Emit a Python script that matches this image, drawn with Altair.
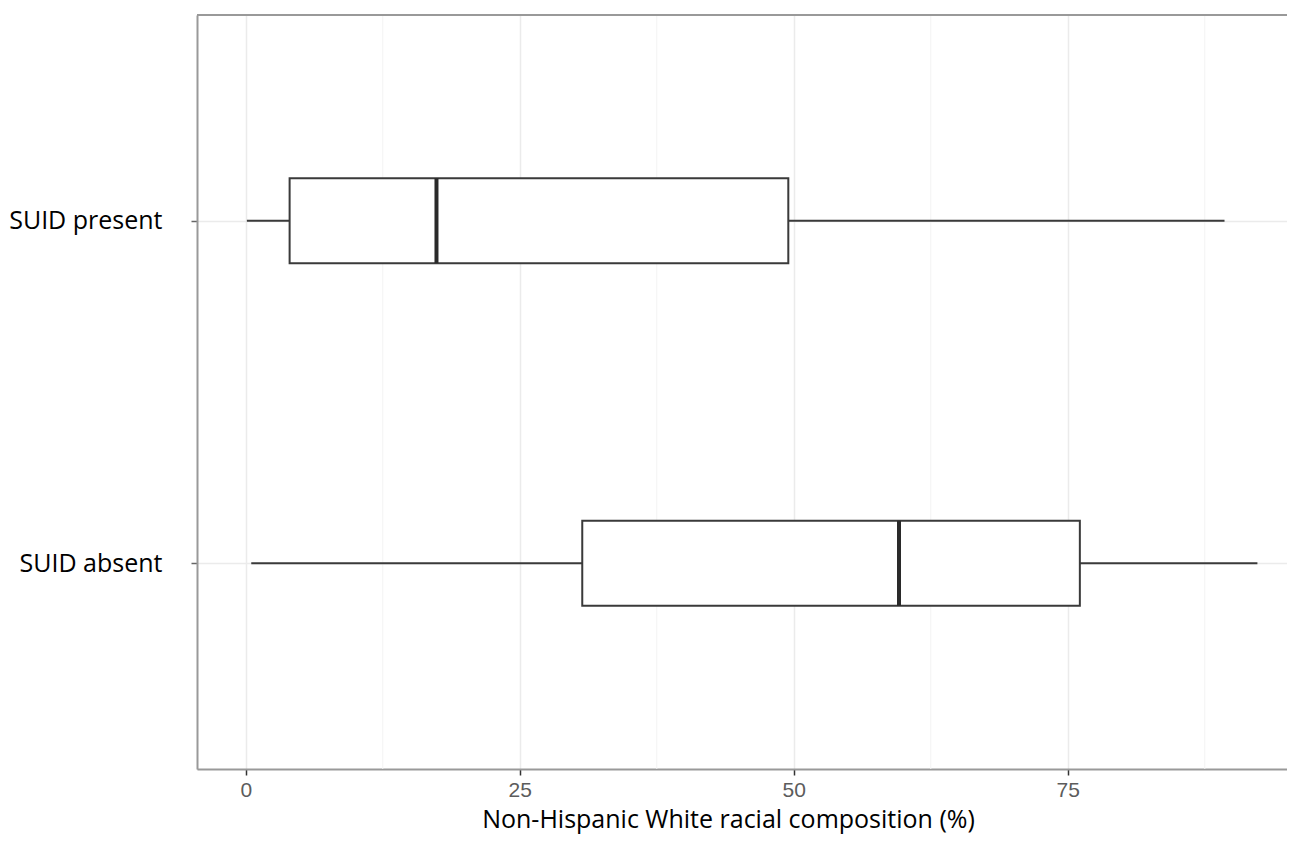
import altair as alt
import pandas as pd

groups = ["SUID present", "SUID absent"]
whisker_low = [0.1, 0.5]
q1 = [4.0, 30.7]
median = [17.4, 59.6]
q3 = [49.5, 76.1]
whisker_high = [89.3, 92.3]
major_ticks = [0, 25, 50, 75]
minor_breaks = [12.5, 37.5, 62.5, 87.5]

df = pd.DataFrame({
    "group": groups,
    "low": whisker_low,
    "q1": q1,
    "median": median,
    "q3": q3,
    "high": whisker_high,
})
minor_df = pd.DataFrame({"minor": minor_breaks})

W, H = 1090, 754
x_scale = alt.Scale(domain=[-4.45, 95.0], nice=False, zero=False)
x_axis = alt.Axis(
    title="Non-Hispanic White racial composition (%)",
    values=major_ticks,
    grid=True,
    gridColor="#ebebeb",
    gridWidth=1.5,
    domain=True,
    domainColor="#999999",
    domainWidth=2,
    ticks=True,
    tickColor="#333333",
    tickWidth=1.5,
    tickSize=6,
    labelFont="Liberation Sans",
    labelFontSize=21,
    labelColor="#5c5c5c",
    labelPadding=4,
    titleFont="Open Sans",
    titleFontSize=25,
    titleFontWeight="normal",
    titleColor="#000000",
    titleX=531,
    titleY=58,
    titleAnchor="start",
    titleAlign="center",
    titleBaseline="alphabetic",
)
y_scale = alt.Scale(type="point", padding=0.6)
y_axis = alt.Axis(
    title=None,
    grid=True,
    gridColor="#ebebeb",
    gridWidth=1.5,
    domain=True,
    domainColor="#999999",
    domainWidth=2,
    ticks=True,
    tickColor="#666666",
    tickWidth=1.5,
    tickSize=6,
    labelFont="Open Sans",
    labelFontSize=25,
    labelColor="#000000",
    labelPadding=29,
)

base = alt.Chart(df)

minor = alt.Chart(minor_df).mark_rule(color="#f3f3f3", strokeWidth=1).encode(
    x=alt.X("minor:Q", scale=x_scale, axis=x_axis)
)

whisk = base.mark_rule(color="#3a3a3a", strokeWidth=2).encode(
    x=alt.X("low:Q", scale=x_scale, axis=x_axis),
    x2="high:Q",
    y=alt.Y("group:N", sort=groups, scale=y_scale, axis=y_axis),
)

box = base.mark_bar(size=85, fill="white", stroke="#3a3a3a", strokeWidth=2).encode(
    x=alt.X("q1:Q", scale=x_scale, axis=x_axis),
    x2="q3:Q",
    y=alt.Y("group:N", sort=groups, scale=y_scale, axis=y_axis),
)

med = base.mark_tick(size=85, thickness=4, color="#2a2a2a", opacity=1).encode(
    x=alt.X("median:Q", scale=x_scale, axis=x_axis),
    y=alt.Y("group:N", sort=groups, scale=y_scale, axis=y_axis),
)

top = alt.Chart(alt.Data(values=[{"a": 1}])).mark_rule(color="#999999", strokeWidth=2).encode(
    x=alt.value(0), x2=alt.value(W), y=alt.value(0)
)

chart = alt.layer(minor, whisk, box, med, top).properties(
    width=W,
    height=H,
    autosize=alt.AutoSizeParams(type="none"),
    padding={"left": 189, "top": 7, "right": 0, "bottom": 68},
).configure_view(stroke=None).configure(background="white")

chart.save("out.html", embed_options={"renderer": "svg", "actions": False})
